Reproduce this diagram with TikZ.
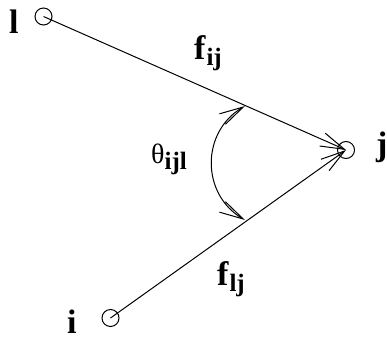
\documentclass[tikz,border=0pt]{standalone}
\usepackage{fontspec}
\setmainfont{Liberation Serif}
\usetikzlibrary{arrows.meta}
\newcommand{\subl}[1]{\raisebox{-6pt}{\fontsize{25}{25}\selectfont\bfseries #1}}

\begin{document}
\begin{tikzpicture}[
    x=1pt,
    y=1pt,
    every node/.style={font=\fontsize{34}{34}\selectfont\bfseries, inner sep=0pt},
    port/.style={circle, draw, line width=1pt, minimum size=17pt},
    flow/.style={line width=1pt, -{Straight Barb[length=24pt,width=14pt]}},
    anglearc/.style={line width=1pt, {Straight Barb[length=24pt,width=12pt]}-{Straight Barb[length=24pt,width=12pt]}}
  ]
  \useasboundingbox (0,0) rectangle (387,-340);
  %
  \node[port] (l) at (43.5,-16.5) {};
  \node[port] (j) at (346,-150) {};
  \node[port] (i) at (110.5,-318) {};

  \node[anchor=base west] (lname) at (9,-33) {l};
  \node[anchor=base west] (jname) at (376,-155) {j};
  \node[anchor=base west] (iname) at (67,-333) {i};

  \draw[flow] (l.center) -- (j.center);
  \draw[flow] (i.center) -- (j.center);

  %
  \coordinate (atop) at (245,-106);
  \coordinate (abot) at (245,-220);
  \draw[anglearc] (atop) to[out=210, in=150, looseness=1.15] (abot);

  \node[anchor=base west] (fij) at (194,-59) {f\kern1pt\subl{ij}};
  \node[anchor=base west] (flj) at (217,-285) {f\kern1pt\subl{lj}};
  \node[anchor=base west] (theta) at (151,-163) {\mdseries\fontsize{28}{28}\selectfont θ\subl{ijl}};
\end{tikzpicture}
\end{document}
